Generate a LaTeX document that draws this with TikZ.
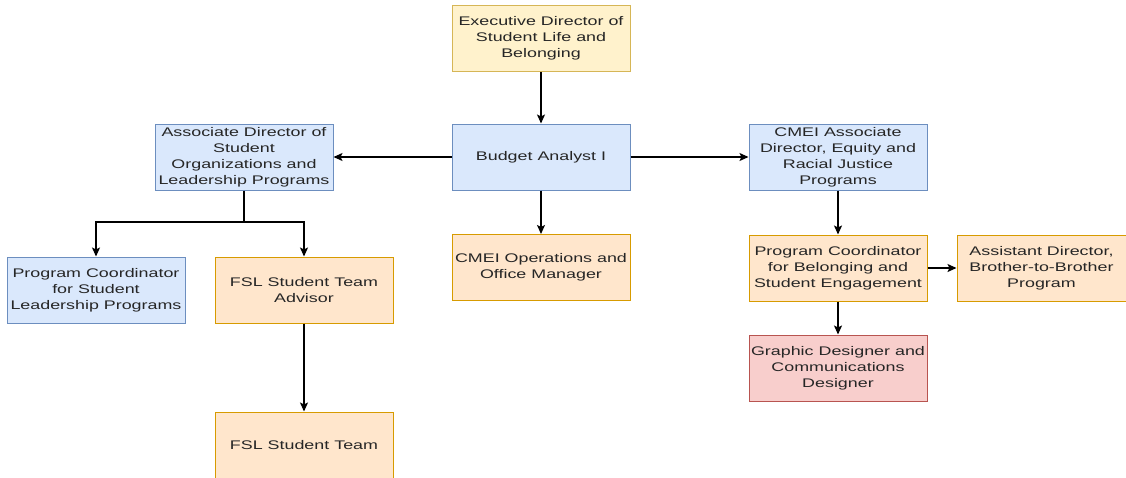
\documentclass[tikz,border=0pt]{standalone}
\usepackage{fontspec}
\setmainfont{Liberation Sans}[FakeStretch=1.43]
\usetikzlibrary{arrows.meta}
\definecolor{ylwfill}{HTML}{FFF2CC}\definecolor{ylwline}{HTML}{D6B656}
\definecolor{bluefill}{HTML}{DAE8FC}\definecolor{blueline}{HTML}{6C8EBF}
\definecolor{orgfill}{HTML}{FFE6CC}\definecolor{orgline}{HTML}{D79B00}
\definecolor{redfill}{HTML}{F8CECC}\definecolor{redline}{HTML}{B85450}
\begin{document}
\begin{tikzpicture}[x=1pt,y=-1pt,
  box/.style={rectangle, draw, line width=1pt, minimum width=178pt, minimum height=66pt,
    inner sep=0pt, align=center, font=\fontsize{12.5}{16}\selectfont, text=black!85},
  ylwbox/.style={box, fill=ylwfill, draw=ylwline},
  bluebox/.style={box, fill=bluefill, draw=blueline},
  orgbox/.style={box, fill=orgfill, draw=orgline},
  redbox/.style={box, fill=redfill, draw=redline},
  link/.style={line width=1.3pt, -{Stealth[length=9pt,width=8pt,inset=2pt]}},
  plain/.style={line width=1.3pt}]
\useasboundingbox (0,0) rectangle (1126,477);
\clip (0,0) rectangle (1126,477);
\fill[white] (0,0) rectangle (1126,477);

% top row
\node[ylwbox] (exec) at (541,38.5) {Executive Director of\\Student Life and\\Belonging};
\node[bluebox] (budget) at (541,157) {Budget Analyst I};
\node[bluebox] (assoc) at (244,157) {Associate Director of\\Student\\Organizations and\\Leadership Programs};
\node[bluebox] (cmei) at (838,157) {CMEI Associate\\Director, Equity and\\Racial Justice\\Programs};

% second level
\node[orgbox] (ops) at (541,267.5) {CMEI Operations and\\Office Manager};
\node[bluebox] (pcsl) at (96,290) {Program Coordinator\\for Student\\Leadership Programs};
\node[orgbox] (fsla) at (304,290) {FSL Student Team\\Advisor};
\node[orgbox] (fslt) at (304,445) {FSL Student Team};
\node[orgbox] (pcb) at (838,268) {Program Coordinator\\for Belonging and\\Student Engagement};
\node[orgbox, minimum width=169pt] (asst) at (1041.5,268) {Assistant Director,\\Brother-to-Brother\\Program};
\node[redbox] (gdes) at (838,368) {Graphic Designer and\\Communications\\Designer};

% connectors
\draw[link] (exec) -- (budget);
\draw[link] (budget) -- (assoc);
\draw[link] (budget) -- (cmei);
\draw[link] (budget) -- (ops);
\coordinate (split) at (244,222);
\draw[plain] (assoc) -- (split);
\draw[link] (split) -| (pcsl);
\draw[link] (split) -| (fsla);
\draw[link] (fsla) -- (fslt);
\draw[link] (cmei) -- (pcb);
\draw[link] (pcb) -- (asst);
\draw[link] (pcb) -- (gdes);
\end{tikzpicture}
\end{document}
